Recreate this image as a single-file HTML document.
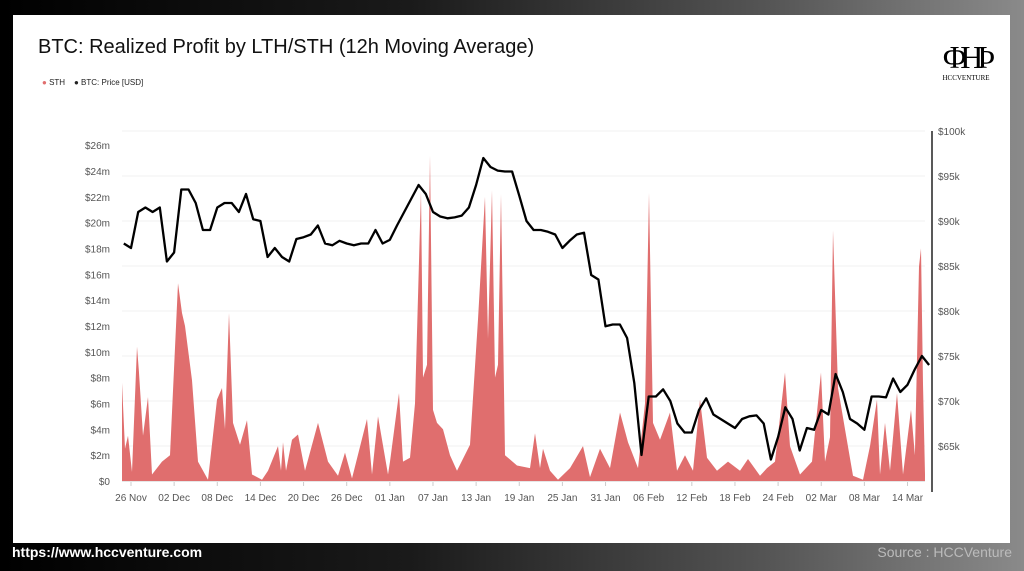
<!DOCTYPE html>
<html><head><meta charset="utf-8"><style>
body{margin:0;width:1024px;height:571px;overflow:hidden;background:linear-gradient(90deg,#000 0%,#1a1a1a 40%,#555 75%,#8a8a8a 100%);font-family:"Liberation Sans",sans-serif;position:relative}
#card{position:absolute;left:13px;top:15px;width:997px;height:528px;background:#fff}
.t{position:absolute}
</style></head><body>
<div id="card"></div>
<div class="t" style="left:38px;top:36px;font-size:20px;color:#111">BTC: Realized Profit by LTH/STH (12h Moving Average)</div>
<div class="t" style="left:42px;top:78px;font-size:8px;color:#222">
<span><span style="color:#e06e6e">●</span> STH</span>&nbsp;&nbsp;&nbsp;
<span><span>●</span> BTC: Price [USD]</span></div>
<div class="t" style="left:940px;top:40px;width:52px;text-align:center">
<div style="font-family:'Liberation Serif',serif;font-size:32px;line-height:34px;color:#000;letter-spacing:-6px">ΦHϷ</div>
<div style="font-family:'Liberation Serif',serif;font-size:7px;color:#000">HCCVENTURE</div></div>
<svg id="chart" width="1024" height="571" style="position:absolute;left:0;top:0"></svg>
<div class="t" style="left:12px;top:544px;font-size:14px;font-weight:bold;color:#fff">https://www.hccventure.com</div>
<div class="t" style="right:12px;top:544px;font-size:14px;color:#bbb">Source : HCCVenture</div>
<script>
const priceValues=[87.5,87,91,91.5,91,91.5,85.5,86.5,93.5,93.5,92,89,89,91.5,92,92,91,93,90.2,90,86,87,86,85.5,88,88.2,88.5,89.5,87.5,87.3,87.8,87.5,87.3,87.5,87.5,89,87.5,87.9,89.5,91,92.5,94,93,91,90.5,90.3,90.4,90.6,91.5,94,97,96,95.6,95.5,95.5,92.8,90,89,89,88.8,88.5,87,87.8,88.5,88.7,84,83.5,78.3,78.5,78.5,77,72,64,70.5,70.5,71.3,70,67.5,66.5,66.5,69,70.3,68.5,68,67.5,67,68,68.3,68.4,67.5,63.5,66,69.3,68,64.5,67,66.8,69,68.5,73,71,68,67.5,66.8,70.5,70.5,70.4,72.5,71,71.8,73.5,75,74];
const sthDays=[-1.25,-0.83,-0.42,0.14,0.83,1.1,1.67,2.36,2.92,4.31,5.42,6.54,7.09,7.51,8.48,9.32,10.71,11.96,12.66,13.07,13.63,14.19,15.16,16.13,16.83,18.22,19.05,20.45,20.86,21.14,21.56,22.39,23.23,24.2,26.01,27.4,28.79,29.76,30.74,32.82,33.52,34.35,35.74,36.02,37.27,37.83,38.8,39.5,40.33,40.61,41.17,41.59,42.0,42.56,43.39,44.37,45.34,47.15,48.26,49.24,49.65,50.21,50.63,51.04,51.46,52.02,53.69,55.49,56.19,56.88,57.3,58.28,59.39,61.06,62.87,63.84,65.23,66.62,68.01,69.12,70.51,71.49,72.04,72.6,73.57,74.96,75.94,77.05,78.16,79.14,80.11,81.5,83.03,84.7,85.81,87.48,88.46,89.57,90.96,91.66,93.05,94.72,95.97,96.52,97.22,97.64,98.33,99.3,100.42,101.81,102.78,103.76,104.17,104.87,105.56,106.54,107.37,108.48,109.03,109.6,109.87,110.15,110.43];
const sthValues=[7.6,2.5,3.5,0.7,10.4,8.5,3.5,6.5,0.5,1.5,2,15.3,13,12,7.8,1.5,0.1,6.3,7.2,4,13,4.5,2.8,4.7,0.5,0.1,0.8,2.7,0.8,3,0.8,3.2,3.6,0.8,4.5,1.5,0.4,2.2,0.2,4.8,0.5,5,0.5,1.5,6.8,1.5,1.8,6,22.5,8,9,25.2,5.5,4.5,4,2,0.8,2.8,12.5,22,11,22.5,8,9,22.2,2,1.2,1,3.7,1,2.5,0.8,0.1,1,2.7,0.3,2.5,1,5.3,3,1,6,22.3,4.5,3.2,5.3,0.8,2,0.8,6.3,1.8,0.8,1.5,0.8,1.7,0.4,1,1.5,8.4,2.7,0.5,1.5,8.4,1.5,3.4,19.4,7.2,4,0.4,0.1,2.7,6.3,0.5,4.5,0.8,6.8,0.5,5.5,2,16.6,18,7.5,0.5];
const leftTicks=[0,2,4,6,8,10,12,14,16,18,20,22,24,26];
const rightTicks=[65,70,75,80,85,90,95,100];
const xTickLabels=["26 Nov","02 Dec","08 Dec","14 Dec","20 Dec","26 Dec","01 Jan","07 Jan","13 Jan","19 Jan","25 Jan","31 Jan","06 Feb","12 Feb","18 Feb","24 Feb","02 Mar","08 Mar","14 Mar"];
const NS="http://www.w3.org/2000/svg",svg=document.getElementById('chart');
const X=d=>131+7.19*d, YL=v=>481-12.92*v, YR=v=>131+9*(100-v);
function mk(t,a){const e=document.createElementNS(NS,t);for(const k in a)e.setAttribute(k,a[k]);svg.appendChild(e);return e;}
rightTicks.forEach(v=>{const g=mk('line',{x1:122,x2:925,y1:YR(v),y2:YR(v),stroke:'#f0f0f0','stroke-width':1});

const t=mk('text',{x:938,y:YR(v)+4,'font-size':10,fill:'#555','font-family':'Liberation Sans'});t.textContent='$'+v+'k';
});
leftTicks.forEach(v=>{const t=mk('text',{x:110,y:YL(v)+4,'font-size':10,fill:'#555','text-anchor':'end','font-family':'Liberation Sans'});t.textContent='$'+v+(v?'m':'');
});
xTickLabels.forEach((s,i)=>{const x=X(i*6);const t=mk('text',{x:x,y:501,'font-size':10,fill:'#555','text-anchor':'middle','font-family':'Liberation Sans'});t.textContent=s;

const k=mk('line',{x1:x,x2:x,y1:482,y2:486,stroke:'#ccc'});});
let p='M'+X(sthDays[0])+','+YL(0);sthDays.forEach((d,i)=>p+='L'+X(d).toFixed(1)+','+YL(sthValues[i]).toFixed(1));p+='L'+X(sthDays[sthDays.length-1])+','+YL(0)+'Z';
const a=mk('path',{d:p,fill:'#e06e6e'});
let q='';priceValues.forEach((v,i)=>q+=(i?'L':'M')+X(i-1).toFixed(1)+','+YR(v).toFixed(1));
const l=mk('path',{d:q,fill:'none',stroke:'#000','stroke-width':2.3,'stroke-linejoin':'round'});
const ax=mk('line',{x1:932,x2:932,y1:131,y2:492,stroke:'#222','stroke-width':1.5});
const bl=mk('line',{x1:122,x2:925,y1:481.5,y2:481.5,stroke:'#e6e6e6'});
</script>
</body></html>
